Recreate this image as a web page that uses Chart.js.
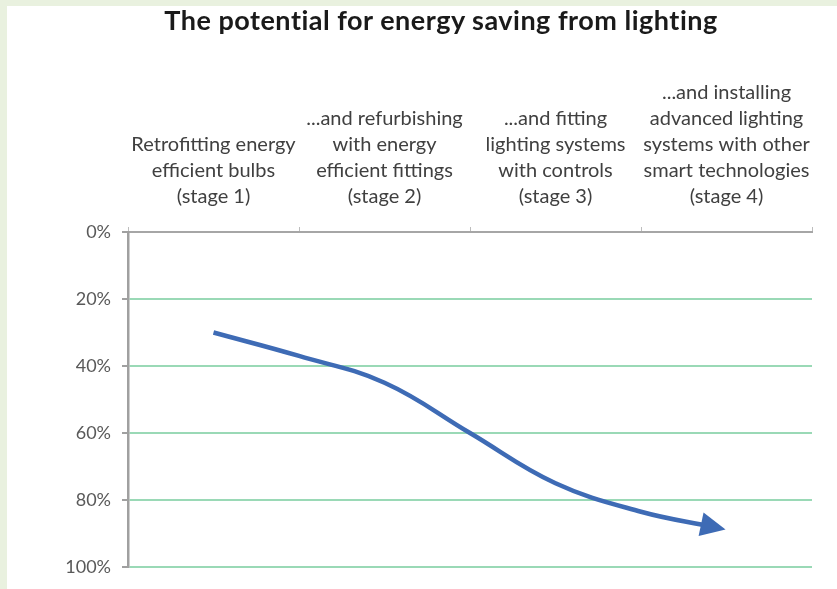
<!DOCTYPE html>
<html>
<head>
<meta charset="utf-8">
<script src="https://cdn.jsdelivr.net/npm/chart.js@4"></script>
<style>
  html, body { margin: 0; padding: 0; background: #e9f1df; }
  #frame {
    position: absolute; left: 7px; top: 6px;
    width: 830px; height: 583px; background: #ffffff;
  }
  #chart { display: block; }
  #title {
    position: absolute; left: 0; top: 4px; width: 882px;
    text-align: center; white-space: nowrap;
    font: bold 27px/32px Lato, "Open Sans", sans-serif;
    letter-spacing: 0.5px; color: #1a1a1a;
  }
</style>
</head>
<body>
<div id="frame"><canvas id="chart" width="830" height="583"></canvas></div>
<div id="title"></div>
<script>
const chartTitle = "The potential for energy saving from lighting";

const stageLabels = [
  ["Retrofitting energy", "efficient bulbs", "(stage 1)"],
  ["...and refurbishing", "with energy", "efficient fittings", "(stage 2)"],
  ["...and fitting", "lighting systems", "with controls", "(stage 3)"],
  ["...and installing", "advanced lighting", "systems with other", "smart technologies", "(stage 4)"],
];

// position along the stage axis (0..4) and saving share in %
const curveStage = [0.5, 1.0, 1.5, 2.0, 2.5, 3.0, 3.42];
const curveSaving = [30, 37, 45, 60, 75, 83.5, 88];

const yTicks = [0, 20, 40, 60, 80, 100];

const FONT = 'Lato, "Open Sans", sans-serif';
const BLUE = "#3e6bb5";

document.getElementById("title").textContent = chartTitle;

// draws the arrow head at the end of the curve, along its last tangent
const arrowHead = {
  id: "arrowHead",
  afterDatasetsDraw(chart) {
    const meta = chart.getDatasetMeta(0);
    const pts = meta.data;
    if (!pts.length) return;
    const last = pts[pts.length - 1];
    let dx = last.x - (last.cp1x ?? pts[pts.length - 2].x);
    let dy = last.y - (last.cp1y ?? pts[pts.length - 2].y);
    const len = Math.hypot(dx, dy) || 1;
    dx /= len; dy /= len;
    const tipX = last.x + dx * 13, tipY = last.y + dy * 13;
    const baseX = last.x - dx * 12, baseY = last.y - dy * 12;
    const half = 12;
    const ctx = chart.ctx;
    ctx.save();
    ctx.fillStyle = BLUE;
    ctx.beginPath();
    ctx.moveTo(tipX, tipY);
    ctx.lineTo(baseX - dy * half, baseY + dx * half);
    ctx.lineTo(baseX + dy * half, baseY - dx * half);
    ctx.closePath();
    ctx.fill();
    ctx.restore();
  },
};

new Chart(document.getElementById("chart"), {
  type: "line",
  data: {
    labels: stageLabels,
    datasets: [
      {
        label: "Energy saving",
        data: curveStage.map((s, i) => ({ x: s, y: curveSaving[i] })),
        xAxisID: "xv",
        yAxisID: "y",
        borderColor: BLUE,
        borderWidth: 4.5,
        borderCapStyle: "butt",
        tension: 0.4,
        pointRadius: 0,
        fill: false,
      },
    ],
  },
  options: {
    responsive: false,
    animation: false,
    layout: { padding: { left: 0, right: 25, top: 30, bottom: 22 } },
    plugins: {
      legend: { display: false },
      tooltip: { enabled: false },
      title: { display: false },
    },
    scales: {
      x: {
        type: "category",
        position: "top",
        offset: true,
        afterFit(s) { s.height = 226 - 30; },
        border: { display: true, color: "#a6a6a6", width: 2 },
        grid: {
          offset: true,
          drawOnChartArea: false,
          drawTicks: true,
          tickLength: 5,
          color: "#bdbdbd",
        },
        ticks: {
          color: "#404040",
          font: { family: FONT, size: 20, lineHeight: 1.3 },
          padding: 17,
          maxRotation: 0,
          autoSkip: false,
        },
      },
      xv: {
        type: "linear",
        display: false,
        min: 0,
        max: 4,
      },
      y: {
        type: "linear",
        reverse: true,
        min: 0,
        max: 100,
        afterFit(s) { s.width = 121; },
        afterBuildTicks(s) { s.ticks = yTicks.map((v) => ({ value: v })); },
        border: { display: true, color: "#a0a0a0", width: 2.5 },
        grid: {
          color: (c) => (c.tick && c.tick.value === 0 ? "rgba(0,0,0,0)" : "#9ad9b6"),
          lineWidth: 2,
          tickColor: "#a0a0a0",
          tickLength: 6,
        },
        ticks: {
          color: "#595959",
          font: { family: FONT, size: 18 },
          padding: 11,
          callback: (v) => v + "%",
        },
      },
    },
  },
  plugins: [arrowHead],
});
</script>
</body>
</html>
